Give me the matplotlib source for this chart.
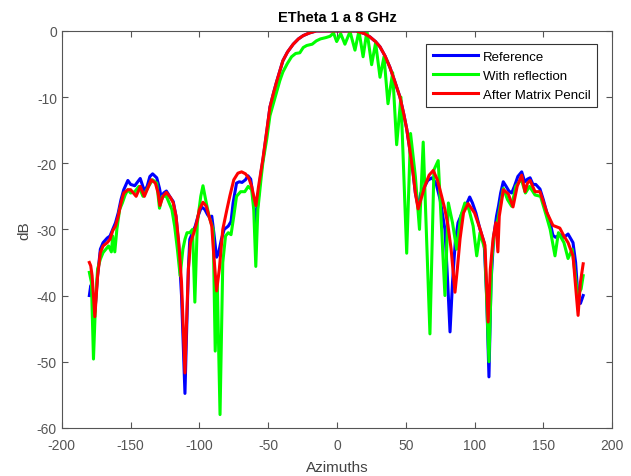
import matplotlib.pyplot as plt

plt.rcParams['font.family'] = ['Liberation Sans', 'DejaVu Sans']
plt.rcParams['axes.unicode_minus'] = False

# Reference (blue)
ref_az = [-180, -179, -178, -176, -174, -172, -170, -167, -165, -163, -161, -159, -157, -155,
          -152, -150, -147, -143, -140, -138, -136, -134, -131, -129, -127.5, -126, -124, -121,
          -119, -117, -115, -113, -111.5, -110.5, -109.5, -108, -107, -105, -103, -101, -98.5,
          -96, -94, -92.5, -91, -89.5, -87.5, -86, -84, -82, -79, -77, -75.5, -73, -71, -69,
          -66.5, -64.7, -62.7, -61, -58.9, -57, -55.5, -53.8, -51, -48.7, -46, -43.9, -41.5,
          -39.3, -36, -31.8, -28, -24.5, -20, -15, -5, 5, 14, 20, 24, 28, 31.3, 35, 38.5, 42,
          45.8, 48.5, 50.7, 53, 55.3, 57, 59, 61, 64, 66, 69, 72, 75, 78.5, 80.5, 82.2, 84, 86,
          88, 91, 94, 96.5, 98.5, 101, 104, 107, 108.8, 110.5, 112, 114, 116, 117.5, 119, 120.9,
          123, 125, 127, 129, 131.5, 134.3, 136.5, 138.5, 140.4, 142.5, 144.5, 147.6, 150, 152.5,
          155, 157, 159, 162, 165, 168, 171.6, 173.5, 175.3, 177, 179]
ref_db = [-40, -38.5, -39, -42.5, -37, -33, -32, -31.3, -31, -30, -29, -27.5, -25.5, -24,
          -22.6, -23.2, -23.4, -22.3, -24.2, -23.5, -22, -21.6, -22.2, -23.8, -25.5, -24.5, -24.2, -25.2,
          -25.8, -28, -32.5, -40, -49, -54.8, -47, -36, -31.5, -30.5, -29.5, -28, -26.6,
          -27, -27.8, -28.2, -28, -30.5, -34.2, -33.5, -31.5, -30, -29.5, -28.8, -26, -23, -22.8, -22.9,
          -22.5, -21.9, -22.4, -25, -29.3, -25, -21.8, -19.5, -15.2, -11.5, -9.3, -7.7, -6,
          -4.5, -3.2, -2.0, -1.2, -0.7, -0.3, 0, 0, 0, 0, -0.4, -0.9, -1.6, -2.4, -3.8, -5.5, -7.6,
          -10, -12.5, -14.8, -18, -21.4, -24.5, -26.5, -24.5, -23.4, -22.6, -22.2, -23, -25.5, -30, -38, -45.5, -38, -32,
          -29, -27.5, -26.3, -25.1, -26, -27.5, -30, -32, -40, -52.3, -38, -31, -28, -26.4, -24.5, -22.8,
          -23.5, -24.2, -24.5, -23.5, -22, -21.3, -22.8, -22.4, -22.2, -23.2, -23.2, -23.9, -25.5, -27.4,
          -29, -30.9, -31.2, -30.8, -31.2, -30.7, -32, -35, -40.5, -41.2, -40]

# With reflection (green)
refl_az = [-180, -178.5, -177, -175.5, -174, -172, -170, -168, -166, -164, -163, -161.5, -160,
           -158, -156, -154, -152, -150, -147, -144, -141, -139.5, -137, -134, -131, -129, -127,
           -124, -122, -120, -118, -116, -114, -112, -110.5, -109, -107, -105, -103.3, -101.5, -99,
           -97.4, -95, -93, -90, -88.5, -87, -85, -83, -81, -79, -77, -75, -73, -70, -67, -64.5,
           -62, -60.5, -59, -57.5, -55, -53.8, -51, -48.7, -46, -43.9, -41.5, -39.3, -36, -33, -30,
           -27, -24.5, -22, -18, -15, -12, -8, -5, -2.5, -0.2, 2.7, 5.8, 9.5, 13.1, 16, 19, 21.8,
           25.2, 28.1, 31.3, 34.2, 37.1, 40.5, 43.4, 46.5, 50.7, 53.5, 57, 60, 62.7, 67.6, 70.5,
           73.6, 78.5, 81, 84, 87, 90, 93, 96, 99, 101.6, 104, 107.5, 110.5, 112.5, 114, 117, 119,
           121, 124, 127, 130, 134, 137, 140, 144, 148, 152, 155, 158.5, 161, 165, 168, 171, 175,
           177.5, 179]
refl_db = [-36.5, -38, -49.6, -41, -36, -34.5, -33.5, -33, -32.5, -33.4, -31, -33.4, -30,
           -27, -26, -24.8, -24, -24.5, -24.3, -23.5, -25, -24.5, -23.5, -22.5, -23, -26.8, -25,
           -25, -26, -27, -29.5, -33, -37, -33, -31.5, -30.5, -30.5, -30, -41, -29, -25,
           -23.4, -26, -28, -30, -48.4, -38, -58, -35, -31, -30.5, -30.8, -28, -25, -24.3, -24.3, -23.5,
           -24, -27, -35.6, -27, -22, -19.8, -16.3, -12.8, -10.8, -9.2, -7.5, -6.2, -4.9, -3.9, -3.4,
           -3.3, -2.5, -2.2, -2.0, -1.5, -1.2, -1.0, -0.8, -0.3, -1.6, -0.4, -2.0, -0.1, -2.9, 0, -3.9, 0,
           -5.1, -1.8, -7.0, -3.9, -11, -6.3, -17.2, -10, -33.6, -15.5, -22, -30, -16.8, -45.8, -21,
           -19.6, -40, -26, -29, -33, -28, -26, -27, -29.5, -34, -30.5, -33, -50, -35, -31, -28.5, -26,
           -23.8, -25.5, -26.5, -23.5, -22.4, -24.5, -23.5, -24.8, -25, -27.8, -30, -34, -30.5, -32, -34.4, -33, -40,
           -39, -37]

# After Matrix Pencil (red)
mp_az = [-180, -179, -178, -176, -174, -172, -170, -167, -165, -163, -161, -159, -157, -155,
         -152, -150, -148, -146, -143, -140, -138, -135, -132, -130, -128.7, -126.5, -124, -121,
         -119, -117, -115, -113, -111.5, -110.5, -109.5, -108, -106.5, -104, -102, -100, -97.4,
         -95, -93, -91, -89.5, -87.5, -85.5, -83, -80, -77.8, -75, -72, -69.3, -66.5, -64, -62,
         -60.5, -58.9, -57, -55.5, -53.8, -51, -48.7, -46, -43.9, -41.5, -39.3, -36, -31.8, -28,
         -24.5, -20, -15, -5, 5, 14, 20, 24, 28, 31.3, 35, 38.5, 42, 45.8, 48.5, 50.7, 53, 55.3,
         57, 59, 61, 64, 67, 70, 73, 76, 78.5, 80.7, 83, 85.8, 87.5, 89.5, 92, 95.3, 100, 104,
         107.6, 109.9, 111.5, 113.5, 115.5, 117, 118, 121, 124.5, 128, 131, 134.3, 136.7, 138.5,
         140.4, 144, 147.6, 152.5, 157, 162, 165, 168, 171.6, 175.3, 177, 179]
mp_db = [-35, -35.5, -37, -43.2, -37, -33.5, -32.5, -32, -31.5, -30.2, -29.5, -28, -26, -24.5,
         -24, -24, -24.5, -25, -23.5, -25, -24, -22.5, -23, -24.5, -26.4, -25, -24.4, -25.2,
         -26, -28, -32, -38, -46, -51.7, -45, -36, -32, -30.5, -29, -27, -25.9,
         -26.5, -28, -29.5, -34, -39.3, -36, -30, -27, -24.9, -22.5, -21.5, -21.3, -21.6, -22.3, -23.5,
         -25, -26.4, -23.5, -21.5, -19.3, -15, -11.5, -9.3, -7.7, -6, -4.5, -3.2, -2.0, -1.2,
         -0.7, -0.3, 0, 0, 0, 0, -0.4, -0.9, -1.6, -2.4, -3.8, -5.5, -7.6, -10, -12.5, -14.8, -18, -21.4,
         -24.5, -26.9, -25.5, -23.4, -21.8, -21.1, -22.5, -24.9, -27, -29.4, -33, -39.5, -36, -31.4, -27.5, -26.1, -27.5, -29.9,
         -32.4, -44, -36, -31.4, -29, -33.4, -28, -24, -24.6, -26.6, -23.5, -21.8, -24.3, -23,
         -22.6, -24.3, -24.3, -27.4, -29.4, -29.8, -31, -32, -34, -43, -38, -35.2]

labels = ['Reference', 'With reflection', 'After Matrix Pencil']

fig = plt.figure(figsize=(6.31, 4.77), dpi=100)
ax = fig.add_axes([0.098, 0.101, 0.872, 0.832])

ax.plot(ref_az, ref_db, color='#0000ff', lw=2.2, label=labels[0])
ax.plot(refl_az, refl_db, color='#00ff00', lw=2.2, label=labels[1])
ax.plot(mp_az, mp_db, color='#ff0000', lw=2.2, label=labels[2])

ax.set_xlim(-200, 200)
ax.set_ylim(-60, 0)
ax.set_xticks(range(-200, 201, 50))
ax.set_yticks(range(-60, 1, 10))

gray = '#555555'
for s in ax.spines.values():
    s.set_color(gray)
    s.set_linewidth(0.8)
ax.tick_params(direction='in', top=True, right=True, colors=gray, labelsize=10, length=4)
ax.tick_params(axis='x', pad=7)
ax.set_xlabel('Azimuths', fontsize=11, color='#444444', labelpad=6)
ax.set_ylabel('dB', fontsize=11, color='#444444')
ax.set_title('ETheta 1 a 8 GHz', fontsize=10.5, fontweight='bold', pad=7)

leg = ax.legend(loc='upper right', bbox_to_anchor=(0.973, 0.967), borderaxespad=0,
                fontsize=9.5, handlelength=3.4, fancybox=False, framealpha=1,
                edgecolor='#333333', handletextpad=0.4, labelspacing=0.5, borderpad=0.5)
leg.get_frame().set_linewidth(0.8)

plt.savefig('out.png', dpi=100)
